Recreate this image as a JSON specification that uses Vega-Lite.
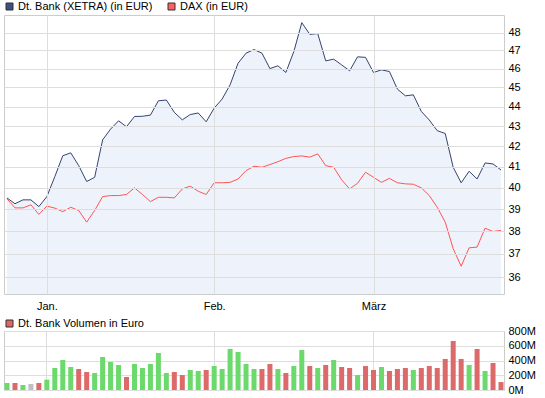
{
  "$schema": "https://vega.github.io/schema/vega-lite/v6.json",
  "padding": {"left": 3, "top": 0, "right": 0, "bottom": 0},
  "background": "white",
  "config": {
    "font": "Liberation Sans",
    "view": {"stroke": "#cccccc"},
    "axis": {"labelFont": "Liberation Sans", "labelFontSize": 11, "labelColor": "#000000", "gridColor": "#dddddd", "gridOpacity": 1, "ticks": false, "domain": false, "title": null},
    "legend": {"labelFont": "Liberation Sans", "labelFontSize": 11, "labelColor": "#000000", "symbolType": "square", "symbolSize": 49, "symbolStrokeColor": "#333333", "symbolStrokeWidth": 1, "symbolOpacity": 1, "labelOffset": 3, "title": null}
  },
  "datasets": {
    "d": [
      {"date": "2010-12-27", "dtb": 39.52, "dax": 39.48, "vol": 95, "dir": "up"},
      {"date": "2010-12-28", "dtb": 39.25, "dax": 39.06, "vol": 95, "dir": "down"},
      {"date": "2010-12-29", "dtb": 39.43, "dax": 39.06, "vol": 68, "dir": "up"},
      {"date": "2010-12-30", "dtb": 39.43, "dax": 39.20, "vol": 81, "dir": "flat"},
      {"date": "2010-12-31", "dtb": 39.12, "dax": 38.76, "vol": 95, "dir": "down"},
      {"date": "2011-01-03", "dtb": 39.58, "dax": 39.14, "vol": 140, "dir": "up"},
      {"date": "2011-01-04", "dtb": 40.52, "dax": 39.05, "vol": 298, "dir": "up"},
      {"date": "2011-01-05", "dtb": 41.53, "dax": 38.89, "vol": 407, "dir": "up"},
      {"date": "2011-01-06", "dtb": 41.67, "dax": 39.09, "vol": 312, "dir": "up"},
      {"date": "2011-01-07", "dtb": 41.05, "dax": 38.94, "vol": 285, "dir": "down"},
      {"date": "2011-01-10", "dtb": 40.29, "dax": 38.41, "vol": 244, "dir": "down"},
      {"date": "2011-01-11", "dtb": 40.49, "dax": 38.94, "vol": 230, "dir": "up"},
      {"date": "2011-01-12", "dtb": 42.31, "dax": 39.58, "vol": 447, "dir": "up"},
      {"date": "2011-01-13", "dtb": 42.85, "dax": 39.63, "vol": 380, "dir": "up"},
      {"date": "2011-01-14", "dtb": 43.27, "dax": 39.63, "vol": 339, "dir": "up"},
      {"date": "2011-01-17", "dtb": 42.97, "dax": 39.68, "vol": 176, "dir": "down"},
      {"date": "2011-01-18", "dtb": 43.49, "dax": 39.99, "vol": 353, "dir": "up"},
      {"date": "2011-01-19", "dtb": 43.50, "dax": 39.68, "vol": 298, "dir": "up"},
      {"date": "2011-01-20", "dtb": 43.56, "dax": 39.35, "vol": 353, "dir": "up"},
      {"date": "2011-01-21", "dtb": 44.30, "dax": 39.55, "vol": 502, "dir": "up"},
      {"date": "2011-01-24", "dtb": 44.34, "dax": 39.55, "vol": 230, "dir": "up"},
      {"date": "2011-01-25", "dtb": 43.70, "dax": 39.52, "vol": 244, "dir": "down"},
      {"date": "2011-01-26", "dtb": 43.32, "dax": 39.94, "vol": 203, "dir": "down"},
      {"date": "2011-01-27", "dtb": 43.59, "dax": 40.07, "vol": 271, "dir": "up"},
      {"date": "2011-01-28", "dtb": 43.67, "dax": 39.83, "vol": 258, "dir": "up"},
      {"date": "2011-01-31", "dtb": 43.22, "dax": 39.68, "vol": 271, "dir": "down"},
      {"date": "2011-02-01", "dtb": 43.92, "dax": 40.23, "vol": 325, "dir": "up"},
      {"date": "2011-02-02", "dtb": 44.39, "dax": 40.23, "vol": 285, "dir": "up"},
      {"date": "2011-02-03", "dtb": 45.14, "dax": 40.25, "vol": 556, "dir": "up"},
      {"date": "2011-02-04", "dtb": 46.30, "dax": 40.41, "vol": 515, "dir": "up"},
      {"date": "2011-02-07", "dtb": 46.85, "dax": 40.81, "vol": 353, "dir": "up"},
      {"date": "2011-02-08", "dtb": 47.05, "dax": 41.02, "vol": 285, "dir": "up"},
      {"date": "2011-02-09", "dtb": 46.85, "dax": 40.97, "vol": 285, "dir": "down"},
      {"date": "2011-02-10", "dtb": 46.01, "dax": 41.10, "vol": 353, "dir": "down"},
      {"date": "2011-02-11", "dtb": 46.16, "dax": 41.24, "vol": 285, "dir": "up"},
      {"date": "2011-02-14", "dtb": 45.80, "dax": 41.40, "vol": 230, "dir": "down"},
      {"date": "2011-02-15", "dtb": 46.94, "dax": 41.49, "vol": 325, "dir": "up"},
      {"date": "2011-02-16", "dtb": 48.56, "dax": 41.52, "vol": 542, "dir": "up"},
      {"date": "2011-02-17", "dtb": 47.90, "dax": 41.46, "vol": 325, "dir": "down"},
      {"date": "2011-02-18", "dtb": 47.94, "dax": 41.62, "vol": 298, "dir": "up"},
      {"date": "2011-02-21", "dtb": 46.43, "dax": 41.05, "vol": 339, "dir": "down"},
      {"date": "2011-02-22", "dtb": 46.52, "dax": 40.97, "vol": 407, "dir": "up"},
      {"date": "2011-02-23", "dtb": 46.21, "dax": 40.37, "vol": 312, "dir": "down"},
      {"date": "2011-02-24", "dtb": 45.89, "dax": 39.94, "vol": 298, "dir": "down"},
      {"date": "2011-02-25", "dtb": 46.65, "dax": 40.21, "vol": 203, "dir": "up"},
      {"date": "2011-02-28", "dtb": 46.62, "dax": 40.73, "vol": 325, "dir": "down"},
      {"date": "2011-03-01", "dtb": 45.80, "dax": 40.49, "vol": 271, "dir": "down"},
      {"date": "2011-03-02", "dtb": 45.94, "dax": 40.25, "vol": 312, "dir": "up"},
      {"date": "2011-03-03", "dtb": 45.85, "dax": 40.44, "vol": 258, "dir": "down"},
      {"date": "2011-03-04", "dtb": 44.91, "dax": 40.23, "vol": 285, "dir": "down"},
      {"date": "2011-03-07", "dtb": 44.56, "dax": 40.18, "vol": 298, "dir": "down"},
      {"date": "2011-03-08", "dtb": 44.61, "dax": 40.16, "vol": 271, "dir": "up"},
      {"date": "2011-03-09", "dtb": 43.75, "dax": 39.99, "vol": 298, "dir": "down"},
      {"date": "2011-03-10", "dtb": 43.31, "dax": 39.63, "vol": 325, "dir": "down"},
      {"date": "2011-03-11", "dtb": 42.77, "dax": 39.09, "vol": 298, "dir": "down"},
      {"date": "2011-03-14", "dtb": 42.63, "dax": 38.41, "vol": 420, "dir": "down"},
      {"date": "2011-03-15", "dtb": 40.97, "dax": 37.23, "vol": 664, "dir": "down"},
      {"date": "2011-03-16", "dtb": 40.23, "dax": 36.47, "vol": 420, "dir": "down"},
      {"date": "2011-03-17", "dtb": 40.78, "dax": 37.27, "vol": 339, "dir": "up"},
      {"date": "2011-03-18", "dtb": 40.41, "dax": 37.30, "vol": 556, "dir": "down"},
      {"date": "2011-03-21", "dtb": 41.18, "dax": 38.14, "vol": 258, "dir": "up"},
      {"date": "2011-03-22", "dtb": 41.13, "dax": 37.99, "vol": 366, "dir": "down"},
      {"date": "2011-03-23", "dtb": 40.84, "dax": 38.04, "vol": 108, "dir": "down"}
    ]
  },
  "spacing": 37,
  "bounds": "flush",
  "resolve": {
    "scale": {"x": "independent", "y": "independent", "fill": "independent", "color": "independent"},
    "legend": {"fill": "independent"}
  },
  "vconcat": [
    {
      "width": 500,
      "height": 279,
      "data": {"name": "d"},
      "encoding": {
        "x": {
          "field": "date", "type": "ordinal",
          "scale": {"type": "point", "padding": 0.377},
          "axis": {"values": ["2011-01-03", "2011-02-01", "2011-03-01"], "labelExpr": "datum.value == '2011-01-03' ? 'Jan.' : datum.value == '2011-02-01' ? 'Feb.' : 'März'", "labelAngle": 0, "grid": true, "labelPadding": 6, "zindex": 1}
        }
      },
      "layer": [
        {
          "mark": {"type": "area", "color": "#eef2fa", "opacity": 1},
          "encoding": {
            "y": {"field": "dtb", "type": "quantitative", "scale": {"type": "log", "domain": [35.3, 49], "nice": false}, "axis": {"orient": "right", "values": [36, 37, 38, 39, 40, 41, 42, 43, 44, 45, 46, 47, 48], "grid": true, "labelPadding": 4, "zindex": 1}},
            "y2": {"datum": 35.3}
          }
        },
        {
          "mark": {"type": "line", "color": "#34446f", "strokeWidth": 1, "zindex": 2},
          "encoding": {
            "y": {"field": "dtb", "type": "quantitative", "scale": {"type": "log", "domain": [35.3, 49], "nice": false}, "axis": {"orient": "right", "values": [36, 37, 38, 39, 40, 41, 42, 43, 44, 45, 46, 47, 48], "grid": true, "labelPadding": 4, "zindex": 1}}
          }
        },
        {
          "mark": {"type": "line", "color": "#ff5555", "strokeWidth": 1, "zindex": 2},
          "encoding": {
            "y": {"field": "dax", "type": "quantitative", "scale": {"type": "log", "domain": [35.3, 49], "nice": false}, "axis": {"orient": "right", "values": [36, 37, 38, 39, 40, 41, 42, 43, 44, 45, 46, 47, 48], "grid": true, "labelPadding": 4, "zindex": 1}}
          }
        },
        {
          "mark": {"type": "point", "shape": "square", "filled": true, "opacity": 0},
          "encoding": {
            "y": {"field": "dtb", "type": "quantitative", "scale": {"type": "log", "domain": [35.3, 49], "nice": false}, "axis": {"orient": "right", "values": [36, 37, 38, 39, 40, 41, 42, 43, 44, 45, 46, 47, 48], "grid": true, "labelPadding": 4, "zindex": 1}},
            "fill": {"datum": "Dt. Bank (XETRA) (in EUR)", "scale": {"domain": ["Dt. Bank (XETRA) (in EUR)", "DAX (in EUR)"], "range": ["#3d5080", "#ff6060"]}, "legend": {"orient": "none", "legendX": 0, "legendY": -14, "direction": "horizontal", "columnPadding": 13}}
          }
        },
        {
          "mark": {"type": "point", "shape": "square", "filled": true, "opacity": 0},
          "encoding": {
            "y": {"field": "dax", "type": "quantitative", "scale": {"type": "log", "domain": [35.3, 49], "nice": false}, "axis": {"orient": "right", "values": [36, 37, 38, 39, 40, 41, 42, 43, 44, 45, 46, 47, 48], "grid": true, "labelPadding": 4, "zindex": 1}},
            "fill": {"datum": "DAX (in EUR)"}
          }
        }
      ]
    },
    {
      "width": 500,
      "height": 59,
      "data": {"name": "d"},
      "encoding": {
        "x": {
          "field": "date", "type": "ordinal",
          "scale": {"type": "band", "paddingInner": 0.37, "paddingOuter": 0.062},
          "axis": {"values": ["2011-01-03", "2011-02-01", "2011-03-01"], "labels": false, "grid": true, "bandPosition": 0.5}
        }
      },
      "layer": [
        {
          "mark": {"type": "bar"},
          "encoding": {
            "y": {"field": "vol", "type": "quantitative", "scale": {"domain": [0, 800], "nice": false}, "axis": {"orient": "right", "values": [0, 200, 400, 600, 800], "labelExpr": "datum.value + 'M'", "grid": true, "labelPadding": 4}},
            "color": {"field": "dir", "type": "nominal", "scale": {"domain": ["up", "down", "flat"], "range": ["#6cd96c", "#dd6a6a", "#c0c0c0"]}, "legend": null}
          }
        },
        {
          "mark": {"type": "point", "shape": "square", "filled": true, "opacity": 0},
          "encoding": {
            "y": {"field": "vol", "type": "quantitative", "scale": {"domain": [0, 800], "nice": false}, "axis": {"orient": "right", "values": [0, 200, 400, 600, 800], "labelExpr": "datum.value + 'M'", "grid": true, "labelPadding": 4}},
            "fill": {"datum": "Dt. Bank Volumen in Euro", "scale": {"domain": ["Dt. Bank Volumen in Euro"], "range": ["#dd6666"]}, "legend": {"orient": "none", "legendX": 0, "legendY": -13}}
          }
        }
      ]
    }
  ]
}
